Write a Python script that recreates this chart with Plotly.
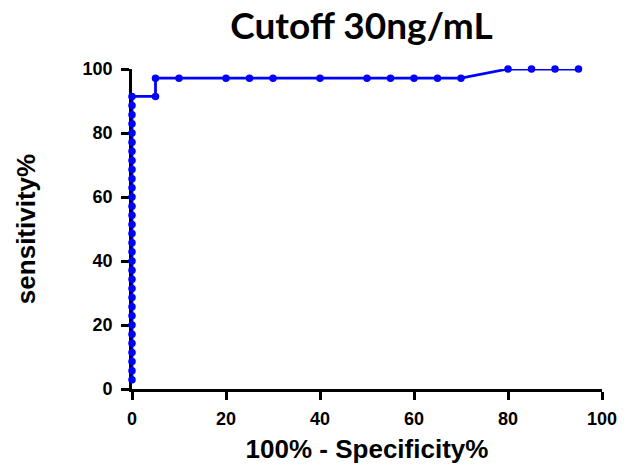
import plotly.graph_objects as go

# ROC curve points (100% - Specificity%, Sensitivity%)
n_pos = 35
fpr = [0.0] * 32 + [5, 5, 10, 20, 25, 30, 40, 50, 55, 60, 65, 70, 80, 85, 90, 95]
sens = [round(k * 100 / n_pos, 2) for k in range(1, 33)] + \
       [91.43, 97.14, 97.14, 97.14, 97.14, 97.14, 97.14, 97.14, 97.14, 97.14, 97.14, 97.14,
        100, 100, 100, 100]
tick_vals = [0, 20, 40, 60, 80, 100]

fig = go.Figure()
fig.add_trace(go.Scatter(
    x=fpr, y=sens, mode="lines+markers",
    line=dict(color="#0000FF", width=2.8),
    marker=dict(color="#0000FF", size=7.5),
    cliponaxis=False, showlegend=False,
))

fam = "Liberation Sans, Arial, sans-serif"
tick_font = dict(family=fam, size=18, color="black", weight="bold")
title_font = dict(family=fam, size=26, color="black", weight="bold")
fig.update_layout(
    width=633, height=469,
    margin=dict(l=132, r=31, t=69, b=80),
    paper_bgcolor="white", plot_bgcolor="white",
    title=dict(text="<b>Cutoff 30ng/mL</b>", x=0.571, xanchor="center", y=0.945, yanchor="middle",
               font=dict(family="Lato, Open Sans, sans-serif", size=37, color="black")),
    xaxis=dict(range=[0, 100], tickvals=tick_vals, showgrid=False, zeroline=False,
               showline=True, linecolor="black", linewidth=2.8, automargin=False,
               ticks="outside", ticklen=8, tickwidth=2.8, tickcolor="black",
               tickfont=tick_font, ticklabelstandoff=3, layer="below traces",
               title=dict(text="100% - Specificity%", font=title_font, standoff=13)),
    yaxis=dict(range=[0, 100], tickvals=tick_vals, showgrid=False, zeroline=False,
               showline=True, linecolor="black", linewidth=2.8, automargin=False,
               ticks="outside", ticklen=8, tickwidth=2.8, tickcolor="black",
               tickfont=tick_font, ticklabelstandoff=5, layer="below traces",
               title=dict(text="sensitivity%", font=title_font, standoff=40)),
)
fig.write_html("out.html")
